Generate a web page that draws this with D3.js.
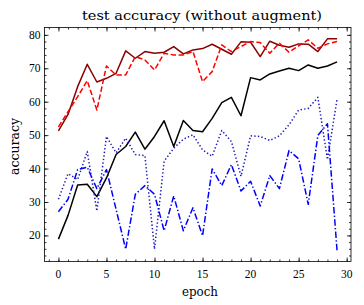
<!DOCTYPE html>
<html>
<head>
<meta charset="utf-8">
<script src="https://cdn.jsdelivr.net/npm/d3@7"></script>
<style>
  body { margin: 0; background: #fff; }
  text { font-family: "Liberation Serif", "DejaVu Serif", serif; fill: #000; }
  .lbl { font-family: "DejaVu Serif", serif; }
  .domain { display: none; }
</style>
</head>
<body>
<svg width="364" height="305"></svg>
<script>
const epochs = d3.range(0, 30);

// dark red solid
const runA = [51.3, 56.2, 64.5, 71.2, 65.9, 67.0, 68.5, 75.2, 73.0, 75.0,
  74.5, 74.8, 76.5, 74.3, 75.5, 75.9, 77.2, 75.7, 74.2, 77.9,
  77.8, 73.5, 78.1, 76.9, 76.3, 77.3, 77.2, 75.0, 78.8, 78.8];
// red dashed
const runB = [52.5, 57.0, 61.5, 66.3, 57.5, 70.7, 68.0, 68.0, 73.5, 72.5,
  69.5, 74.5, 74.0, 74.0, 75.0, 66.0, 69.0, 77.0, 75.0, 76.5,
  78.0, 77.7, 74.5, 77.5, 74.8, 76.7, 78.5, 76.0, 77.3, 78.0];
// black solid
const runC = [18.9, 26.0, 35.1, 35.3, 31.6, 37.2, 44.2, 46.6, 50.9, 45.8,
  49.6, 54.3, 46.6, 54.4, 51.4, 51.0, 55.0, 59.7, 61.3, 55.8,
  67.2, 66.5, 68.3, 69.2, 70.0, 69.3, 71.0, 70.0, 70.7, 71.9];
// blue dotted
const runD = [30.8, 38.5, 36.7, 45.1, 27.3, 49.6, 44.7, 49.1, 44.2, 43.9,
  15.9, 42.2, 46.1, 48.8, 50.1, 45.6, 43.7, 51.4, 48.1, 37.7,
  49.8, 49.6, 48.4, 49.8, 53.1, 57.5, 58.0, 61.3, 42.7, 60.8];
// blue dash-dot
const runE = [27.1, 30.8, 39.7, 40.4, 34.0, 39.7, 27.8, 15.9, 32.3, 34.9,
  32.3, 21.4, 31.8, 21.4, 28.3, 19.9, 39.9, 34.9, 41.2, 33.3,
  36.2, 28.8, 37.9, 34.0, 45.4, 42.9, 29.3, 49.9, 53.4, 15.4];

const xTicks = [0, 5, 10, 15, 20, 25, 30];
const yTicks = [20, 30, 40, 50, 60, 70, 80];

const series = [
  { values: runA, color: '#8b0000', dash: null },
  { values: runB, color: '#ff0000', dash: '5.5,2.5' },
  { values: runC, color: '#000000', dash: null },
  { values: runD, color: '#1a1ab8', dash: '1.4,2.2' },
  { values: runE, color: '#0000ff', dash: '6.5,2.2,1.4,2.2' }
];

const svg = d3.select('svg');
const plotL = 44.5, plotR = 351, plotT = 27.5, plotB = 261.5;

const x = d3.scaleLinear().domain([-1.45, 30.45]).range([plotL, plotR]);
const y = d3.scaleLinear().domain([12.2, 82.2]).range([plotB, plotT]);

// ticks on all four sides, pointing in
const tk = (axis, major) => axis.tickSize(major ? 4 : 2).tickSizeOuter(0);

svg.append('g').attr('transform', `translate(0,${plotB})`)
  .call(tk(d3.axisTop(x).tickValues(d3.range(-1, 31)), false).tickFormat(''));
svg.append('g').attr('transform', `translate(0,${plotB})`)
  .call(tk(d3.axisTop(x).tickValues(xTicks), true).tickFormat(''));
svg.append('g').attr('transform', `translate(0,${plotT})`)
  .call(tk(d3.axisBottom(x).tickValues(d3.range(-1, 31)), false).tickFormat(''));
svg.append('g').attr('transform', `translate(0,${plotT})`)
  .call(tk(d3.axisBottom(x).tickValues(xTicks), true).tickFormat(''));

svg.append('g').attr('transform', `translate(${plotL},0)`)
  .call(tk(d3.axisRight(y).tickValues(d3.range(14, 82, 2)), false).tickFormat(''));
svg.append('g').attr('transform', `translate(${plotL},0)`)
  .call(tk(d3.axisRight(y).tickValues(yTicks), true).tickFormat(''));
svg.append('g').attr('transform', `translate(${plotR},0)`)
  .call(tk(d3.axisLeft(y).tickValues(d3.range(14, 82, 2)), false).tickFormat(''));
svg.append('g').attr('transform', `translate(${plotR},0)`)
  .call(tk(d3.axisLeft(y).tickValues(yTicks), true).tickFormat(''));

svg.selectAll('.tick line').attr('stroke', '#000').attr('stroke-width', 0.8);

// tick labels
svg.append('g').selectAll('text').data(xTicks).join('text')
  .attr('x', d => x(d)).attr('y', plotB + 16.5)
  .attr('text-anchor', 'middle').attr('font-size', 11.5)
  .text(d => d);
svg.append('g').selectAll('text').data(yTicks).join('text')
  .attr('x', plotL - 4).attr('y', d => y(d) + 4)
  .attr('text-anchor', 'end').attr('font-size', 11.5)
  .text(d => d);

// lines
const line = d3.line().x((d, i) => x(epochs[i])).y(d => y(d));
svg.append('g').selectAll('path').data(series).join('path')
  .attr('d', s => line(s.values))
  .attr('fill', 'none')
  .attr('stroke', s => s.color)
  .attr('stroke-width', 1.5)
  .attr('stroke-dasharray', s => s.dash)
  .attr('stroke-linejoin', 'round');

// frame
svg.append('rect')
  .attr('x', plotL).attr('y', plotT)
  .attr('width', plotR - plotL).attr('height', plotB - plotT)
  .attr('fill', 'none').attr('stroke', '#000').attr('stroke-width', 0.8);

svg.append('text').attr('class', 'lbl')
  .attr('x', 202).attr('y', 19.5)
  .attr('text-anchor', 'middle').attr('font-size', 12.5)
  .attr('textLength', 240).attr('lengthAdjust', 'spacingAndGlyphs')
  .text('test accuracy (without augment)');

svg.append('text').attr('class', 'lbl')
  .attr('x', 200).attr('y', 296)
  .attr('text-anchor', 'middle').attr('font-size', 12)
  .attr('textLength', 36).attr('lengthAdjust', 'spacingAndGlyphs')
  .text('epoch');

svg.append('text').attr('class', 'lbl')
  .attr('transform', `translate(18.5,146.5) rotate(-90)`)
  .attr('text-anchor', 'middle').attr('font-size', 12)
  .attr('textLength', 57).attr('lengthAdjust', 'spacingAndGlyphs')
  .text('accuracy');
</script>
</body>
</html>
